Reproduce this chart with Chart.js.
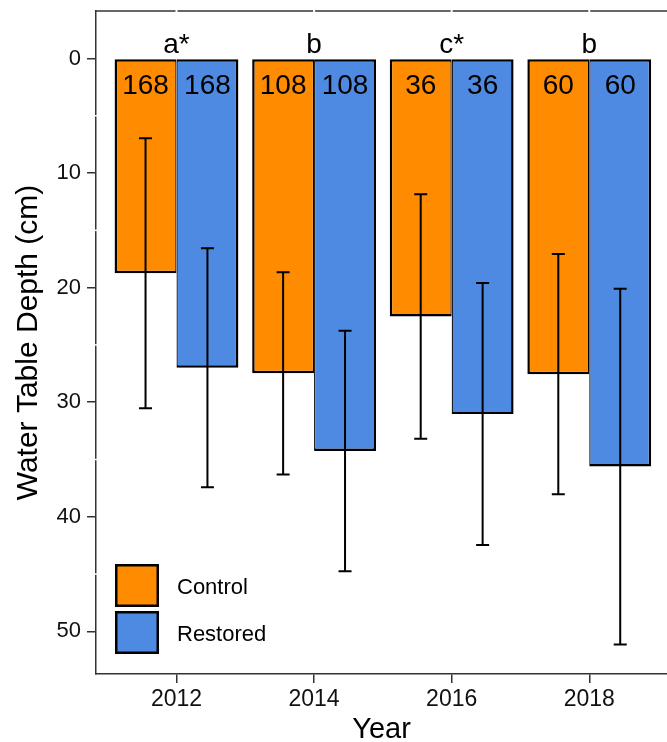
<!DOCTYPE html>
<html>
<head>
<meta charset="utf-8">
<script src="https://cdn.jsdelivr.net/npm/chart.js@4.4.0/dist/chart.umd.min.js"></script>
<style>
    html, body { margin: 0; padding: 0; background: #fff; }
    canvas { display: block; }
</style>
</head>
<body>
<canvas id="chart" width="667" height="742"></canvas>
<script>
// values
const years = [2012, 2014, 2016, 2018];
const controlMean = [18.75, 27.48, 22.52, 27.55];
const controlSd = [11.78, 8.82, 10.66, 10.48];
const restoredMean = [27.0, 34.26, 31.03, 35.62];
const restoredSd = [10.43, 10.5, 11.43, 15.52];
const sampleSizes = [168, 108, 36, 60];
const groupLetters = ['a*', 'b', 'c*', 'b'];
const yTicks = [0, 10, 20, 30, 40, 50];
const yMinorTicks = [5, 15, 25, 35, 45];

const FONT = "'Liberation Sans', Arial, sans-serif";
const ORANGE = '#FF8C00';
const BLUE = '#4F8AE2';

const errorBars = {
    id: 'errorBars',
    afterDatasetsDraw(chart) {
        const ctx = chart.ctx;
        const yScale = chart.scales.y;
        ctx.save();
        ctx.strokeStyle = '#000';
        ctx.lineWidth = 2;
        chart.data.datasets.forEach((ds, i) => {
            const meta = chart.getDatasetMeta(i);
            meta.data.forEach((bar, j) => {
                const top = yScale.getPixelForValue(ds.means[j] - ds.sd[j]);
                const bottom = yScale.getPixelForValue(ds.means[j] + ds.sd[j]);
                ctx.beginPath();
                ctx.moveTo(bar.x, top);
                ctx.lineTo(bar.x, bottom);
                ctx.moveTo(bar.x - 6.5, top);
                ctx.lineTo(bar.x + 6.5, top);
                ctx.moveTo(bar.x - 6.5, bottom);
                ctx.lineTo(bar.x + 6.5, bottom);
                ctx.stroke();
            });
        });
        ctx.restore();
    }
};

const annotations = {
    id: 'annotations',
    afterDraw(chart) {
        const ctx = chart.ctx;
        const xScale = chart.scales.x;
        const yScale = chart.scales.y;
        const area = chart.chartArea;
        const zero = yScale.getPixelForValue(0);
        ctx.save();

        // sample sizes inside the bars
        ctx.fillStyle = '#000';
        ctx.font = `28px ${FONT}`;
        ctx.textAlign = 'center';
        ctx.textBaseline = 'alphabetic';
        chart.data.datasets.forEach((ds, i) => {
            chart.getDatasetMeta(i).data.forEach((bar, j) => {
                ctx.fillText(String(sampleSizes[j]), bar.x, zero + 36);
            });
        });

        // group letters above each year
        years.forEach((yr, j) => {
            ctx.fillText(groupLetters[j], xScale.getPixelForValue(yr), zero - 5);
        });

        // legend inside the panel
        const items = [
            { label: 'Control', color: ORANGE, top: 564 },
            { label: 'Restored', color: BLUE, top: 611 },
        ];
        ctx.font = `22px ${FONT}`;
        ctx.textAlign = 'left';
        ctx.textBaseline = 'middle';
        items.forEach(it => {
            ctx.fillStyle = it.color;
            ctx.fillRect(area.left + 19, it.top, 44, 43);
            ctx.strokeStyle = '#000';
            ctx.lineWidth = 2.5;
            ctx.strokeRect(area.left + 20.25, it.top + 1.25, 41.5, 40.5);
            ctx.fillStyle = '#000';
            ctx.fillText(it.label, area.left + 81, it.top + 24);
        });

        // top panel line, broken where the year ticks are
        ctx.strokeStyle = '#333';
        ctx.lineWidth = 1.5;
        ctx.beginPath();
        ctx.moveTo(area.left, area.top);
        ctx.lineTo(area.right, area.top);
        ctx.stroke();
        ctx.fillStyle = '#fff';
        years.forEach(yr => {
            ctx.fillRect(xScale.getPixelForValue(yr) - 1, area.top - 2, 2, 4);
        });
        yMinorTicks.forEach(v => {
            ctx.fillRect(area.left - 2, yScale.getPixelForValue(v) - 0.75, 4, 1.5);
        });
        ctx.restore();
    }
};

const ctx = document.getElementById('chart').getContext('2d');
new Chart(ctx, {
    type: 'bar',
    data: {
        datasets: [
            {
                label: 'Control',
                data: years.map((yr, i) => ({ x: yr, y: controlMean[i] })),
                means: controlMean,
                sd: controlSd,
                backgroundColor: ORANGE,
                borderColor: '#000',
                borderWidth: { top: 2.5, bottom: 2.5, left: 2.5, right: 1.25 },
                borderSkipped: false,
            },
            {
                label: 'Restored',
                data: years.map((yr, i) => ({ x: yr, y: restoredMean[i] })),
                means: restoredMean,
                sd: restoredSd,
                backgroundColor: BLUE,
                borderColor: '#000',
                borderWidth: { top: 2.5, bottom: 2.5, left: 1.25, right: 2.5 },
                borderSkipped: false,
            },
        ]
    },
    options: {
        responsive: false,
        animation: false,
        devicePixelRatio: 1,
        categoryPercentage: 0.9,
        barPercentage: 1.0,
        layout: { padding: { top: 11, right: 0, bottom: 0, left: 0 } },
        plugins: {
            legend: { display: false },
            tooltip: { enabled: false },
        },
        scales: {
            x: {
                type: 'linear',
                min: 2010.83,
                max: 2019.13,
                offset: false,
                afterBuildTicks: s => { s.ticks = years.map(v => ({ value: v })); },
                afterFit: s => {
                    s.height = 68;
                    s.paddingLeft = 0; s.paddingRight = 0; s.paddingTop = 0; s.paddingBottom = 0;
                },
                ticks: {
                    callback: v => String(v),
                    font: { family: FONT, size: 23 },
                    color: '#111',
                    padding: 3,
                    maxRotation: 0,
                },
                grid: { drawOnChartArea: false, offset: false, tickLength: 9, color: '#333', lineWidth: 1.5 },
                border: { display: true, color: '#333', width: 1.5 },
                title: {
                    display: true,
                    text: 'Year',
                    font: { family: FONT, size: 29, lineHeight: 0.85 },
                    color: '#000',
                    padding: { top: 0, bottom: 0 },
                },
            },
            y: {
                type: 'linear',
                reverse: true,
                min: -4.14,
                max: 53.72,
                afterBuildTicks: s => { s.ticks = yTicks.map(v => ({ value: v })); },
                afterFit: s => {
                    s.width = 96;
                    s.paddingLeft = 0; s.paddingRight = 0; s.paddingTop = 0; s.paddingBottom = 0;
                },
                ticks: {
                    font: { family: FONT, size: 22 },
                    color: '#111',
                    padding: 6,
                },
                grid: { drawOnChartArea: false, tickLength: 9, color: '#333', lineWidth: 1.5 },
                border: { display: true, color: '#333', width: 1.5 },
                title: {
                    display: true,
                    text: 'Water Table Depth (cm)',
                    font: { family: FONT, size: 30, lineHeight: 1.2 },
                    color: '#000',
                    padding: { top: 11, bottom: 0 },
                },
            },
        },
    },
    plugins: [errorBars, annotations],
});
</script>
</body>
</html>
